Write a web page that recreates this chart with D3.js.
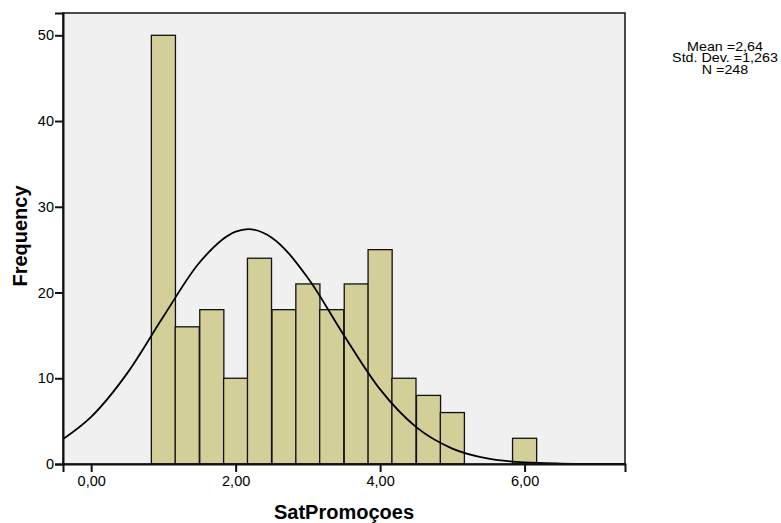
<!DOCTYPE html>
<html>
<head>
<meta charset="utf-8">
<script src="https://cdn.jsdelivr.net/npm/d3@7"></script>
<style>
  body { margin: 0; background: #fff; }
  svg { display: block; font-family: "Liberation Sans", Arial, sans-serif; }
  .tick text { font-size: 14.5px; fill: #000; }
  .axis-title { font-size: 20px; font-weight: bold; }
  .stats { font-size: 13px; }
</style>
</head>
<body>
<div id="main"></div>
<script>
// histogram bins (midpoints) and their counts
const binMids = [1.00, 1.33, 1.67, 2.00, 2.33, 2.67, 3.00, 3.33, 3.67, 4.00, 4.33, 4.67, 5.00, 6.00];
const counts  = [50, 16, 18, 10, 24, 18, 21, 18, 21, 25, 10, 8, 6, 3];
const binWidth = 1 / 3;

// normal curve
const curveX = [-0.39, 0, 0.5, 1, 1.5, 2, 2.17, 2.5, 3, 3.5, 4, 4.5, 5, 5.5, 6, 6.5, 7, 7.39];
const curveY = [2.9, 5.5, 10.6, 17.2, 23.5, 27.1, 27.4, 26.4, 21.7, 15.0, 8.7, 4.3, 1.8, 0.62, 0.18, 0.05, 0.01, 0];

const xTicks = [0, 2, 4, 6];
const yTicks = [0, 10, 20, 30, 40, 50];
const stats = ["Mean =2,64", "Std. Dev. =1,263", "N =248"];

const w = 781;
const h = 523;
const plot = { left: 63, top: 13, right: 625, bottom: 464 };

const svg = d3.select("#main").append("svg")
  .attr("width", w)
  .attr("height", h);

const x = d3.scaleLinear()
  .domain([-0.39, 7.39])
  .range([plot.left, plot.right]);

const y = d3.scaleLinear()
  .domain([0, 52.6])
  .range([plot.bottom, plot.top]);

// plot background
svg.append("rect")
  .attr("x", plot.left)
  .attr("y", plot.top)
  .attr("width", plot.right - plot.left)
  .attr("height", plot.bottom - plot.top)
  .attr("fill", "#f0f0f0");

svg.append("clipPath")
  .attr("id", "clip")
  .append("rect")
  .attr("x", plot.left)
  .attr("y", plot.top)
  .attr("width", plot.right - plot.left)
  .attr("height", plot.bottom - plot.top);

// bars
svg.append("g")
  .selectAll("rect")
  .data(binMids)
  .enter()
  .append("rect")
  .attr("x", d => x(d - binWidth / 2))
  .attr("width", d => x(d + binWidth / 2) - x(d - binWidth / 2))
  .attr("y", (d, i) => y(counts[i]))
  .attr("height", (d, i) => y(0) - y(counts[i]))
  .attr("fill", "#d3cf98")
  .attr("stroke", "#111")
  .attr("stroke-width", 1.3);

// normal curve
const line = d3.line()
  .x(d => x(d[0]))
  .y(d => y(d[1]))
  .curve(d3.curveMonotoneX);

svg.append("path")
  .datum(curveX.map((v, i) => [v, curveY[i]]))
  .attr("clip-path", "url(#clip)")
  .attr("d", line)
  .attr("fill", "none")
  .attr("stroke", "#000")
  .attr("stroke-width", 1.8);

// frame
svg.append("rect")
  .attr("x", plot.left)
  .attr("y", plot.top)
  .attr("width", plot.right - plot.left)
  .attr("height", plot.bottom - plot.top)
  .attr("fill", "none")
  .attr("stroke", "#111")
  .attr("stroke-width", 1.5);

// axes
const fmt = d => d.toFixed(2).replace(".", ",");

svg.append("g")
  .attr("transform", "translate(0," + plot.bottom + ")")
  .call(d3.axisBottom(x).tickValues(xTicks).tickFormat(fmt).tickSize(8).tickPadding(4))
  .call(g => g.select(".domain").attr("stroke-width", 2).attr("stroke", "#111"))
  .call(g => g.selectAll(".tick line").attr("stroke-width", 2).attr("stroke", "#111"))
  .call(g => g.selectAll(".tick text").attr("font-family", null).attr("font-size", null));

svg.append("g")
  .attr("transform", "translate(" + plot.left + ",0)")
  .call(d3.axisLeft(y).tickValues(yTicks).tickSize(8).tickPadding(1))
  .call(g => g.select(".domain").attr("stroke-width", 2).attr("stroke", "#111"))
  .call(g => g.selectAll(".tick line").attr("stroke-width", 2).attr("stroke", "#111"))
  .call(g => g.selectAll(".tick text").attr("font-family", null).attr("font-size", null));

// axis titles
svg.append("text")
  .attr("class", "axis-title")
  .attr("x", 344)
  .attr("y", 519)
  .attr("text-anchor", "middle")
  .text("SatPromoçoes");

svg.append("text")
  .attr("class", "axis-title")
  .attr("transform", "translate(27,236) rotate(-90)")
  .attr("text-anchor", "middle")
  .text("Frequency");

// stats box (text in the original is drawn a bit wide)
svg.append("g")
  .attr("transform", "translate(725,0) scale(1.1,1)")
  .selectAll("text")
  .data(stats)
  .enter()
  .append("text")
  .attr("class", "stats")
  .attr("x", 0)
  .attr("y", (d, i) => 51 + i * 11.5)
  .attr("text-anchor", "middle")
  .text(d => d);
</script>
</body>
</html>
